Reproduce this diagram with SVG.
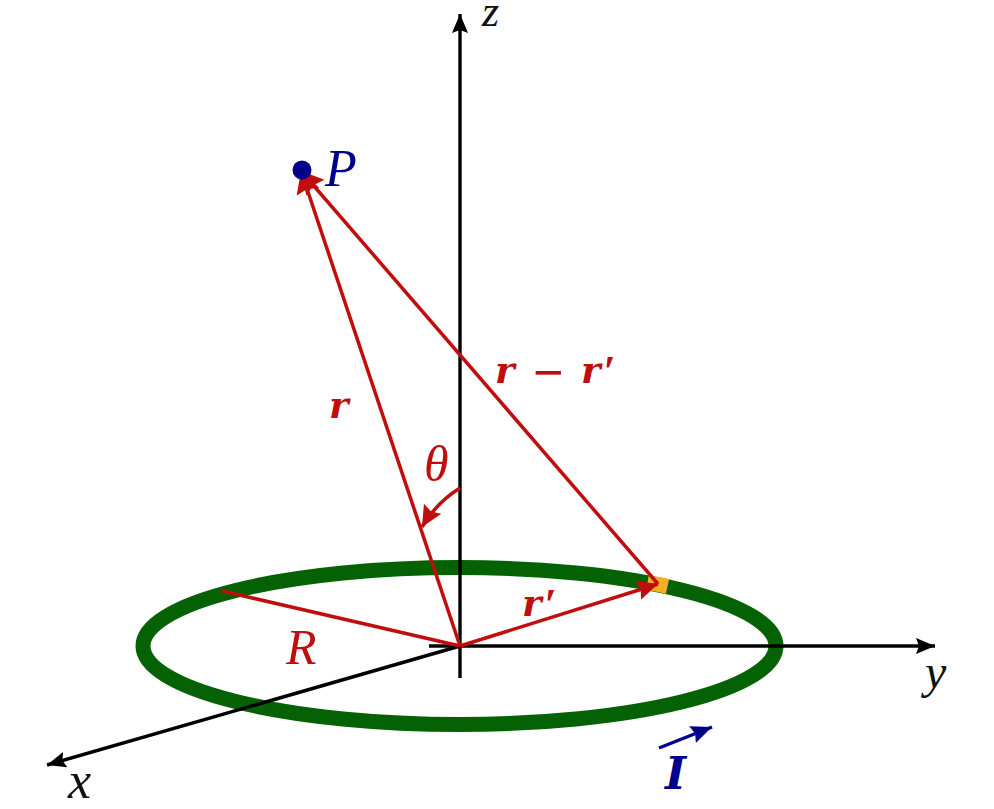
<svg xmlns="http://www.w3.org/2000/svg" width="994" height="809" viewBox="0 0 994 809">
<style>
text{font-family:"Liberation Serif","Times New Roman",serif;font-style:italic}
.lab{font-size:44px}
.blk{fill:#111}
.red{fill:#c00d0d}
.blue{fill:#00008b}
.vec{font-family:"DejaVu Serif","Liberation Serif",serif;font-weight:bold;font-size:37px}
.thin{font-family:"Liberation Sans",sans-serif;font-weight:normal;font-style:normal;font-size:52px}
.pr{font-family:"Liberation Serif",serif;font-weight:bold;font-size:44px}
.ax{stroke:#000;stroke-width:3.4;fill:none}
.rl{stroke:#c00d0d;stroke-width:3.5;fill:none}
</style>
<defs>
<marker id="ah-k" markerUnits="userSpaceOnUse" markerWidth="22" markerHeight="18" refX="19" refY="8" orient="auto"><path d="M0 0L19 8L0 16L3 8Z" fill="#000"/></marker>
<marker id="ah-r" markerUnits="userSpaceOnUse" markerWidth="26" markerHeight="26" refX="22" refY="12" orient="auto"><path d="M0 0L22 12L0 24L3 12Z" fill="#c00d0d"/></marker>
<marker id="ah-s" markerUnits="userSpaceOnUse" markerWidth="24" markerHeight="22" refX="21" refY="10" orient="auto"><path d="M0 0L21 10L0 20L3 10Z" fill="#c00d0d"/></marker>
<marker id="ah-b" markerUnits="userSpaceOnUse" markerWidth="24" markerHeight="22" refX="21" refY="9" orient="auto"><path d="M0 0L21 9L0 18L3 9Z" fill="#00008b"/></marker>
</defs>
<rect width="994" height="809" fill="#fff"/>
<g id="loop">
<ellipse cx="459.5" cy="646" rx="316.5" ry="78.5" fill="none" stroke="#046204" stroke-width="15"/>
<path d="M647.5 582.6Q658 584.3 667.5 586.4" fill="none" stroke="#f0b020" stroke-width="15"/>
</g>
<g id="connectors">
<path class="ax" d="M460 678V14" marker-end="url(#ah-k)"/>
<path class="ax" d="M429 646H935" marker-end="url(#ah-k)"/>
<path class="ax" d="M460 646L47 765" marker-end="url(#ah-k)"/>
<path class="rl" d="M460 646L222 591"/>
<path class="rl" d="M460 646L301 171" marker-end="url(#ah-r)"/>
<path class="rl" d="M460 646L658 584" marker-end="url(#ah-s)"/>
<path class="rl" d="M658 584L301 171" marker-end="url(#ah-r)"/>
<path class="rl" d="M460 488Q436 503 422 527" marker-end="url(#ah-s)"/>
<path d="M659 748L712 727" fill="none" stroke="#00008b" stroke-width="3.4" marker-end="url(#ah-b)"/>
</g>
<g id="P"><circle cx="302" cy="170" r="9.5" fill="#00008b"/><text class="blue" style="font-size:52px" x="325" y="186">P</text></g>
<g id="labels">
<text class="lab blk" x="482" y="26">z</text>
<text class="blk" x="925" y="688" style="font-size:48px">y</text>
<text class="blk" style="font-size:52px" x="68" y="798">x</text>
<text class="red" style="font-size:50px" x="286" y="664">R</text>
<text class="red" style="font-size:50px" x="424" y="481">θ</text>
<text class="red vec" x="329" y="418">r</text>
<text class="red vec" y="383"><tspan x="495">r</tspan><tspan class="thin" x="533" y="390">−</tspan><tspan x="581" y="383">r</tspan><tspan class="pr" x="603" y="386">′</tspan></text>
<text class="red vec" y="616"><tspan x="522">r</tspan><tspan class="pr" x="544" y="619">′</tspan></text>
<text class="blue vec" style="font-size:45px" x="665" y="789">I</text>
</g>
</svg>
